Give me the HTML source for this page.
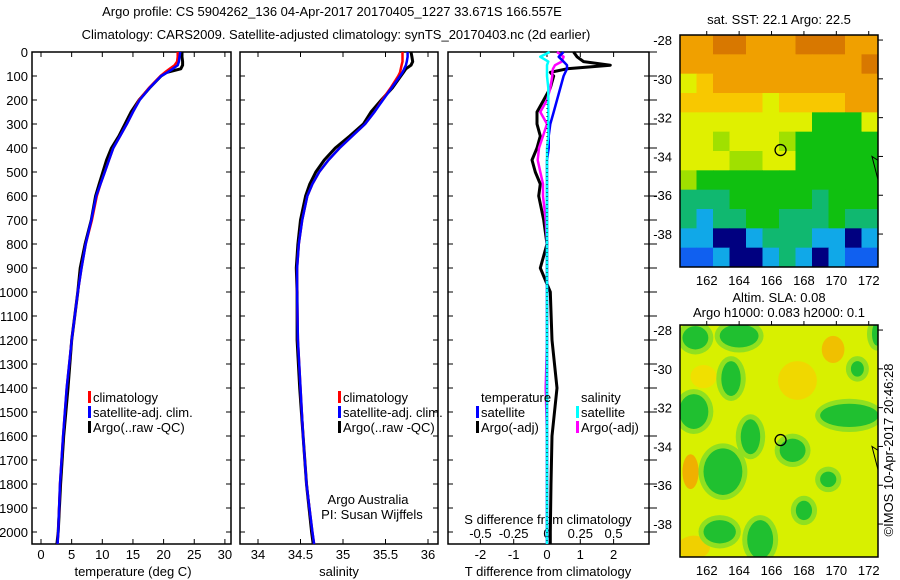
<!DOCTYPE html>
<html><head><meta charset="utf-8"><style>
html,body{margin:0;padding:0;background:#fff;}
svg{display:block;font-family:"Liberation Sans",sans-serif;}
text{font-size:13px;fill:#000;}
</style></head><body>
<svg id="fig" width="900" height="580" viewBox="0 0 900 580" xmlns="http://www.w3.org/2000/svg">
<defs><clipPath id="slaClip"><rect x="680" y="325" width="198" height="232"/></clipPath><clipPath id="sstClip"><rect x="680" y="35" width="198" height="232"/></clipPath></defs>
<rect width="900" height="580" fill="#fff"/>
<text x="332" y="16" text-anchor="middle">Argo profile: CS 5904262_136 04-Apr-2017 20170405_1227 33.671S 166.557E</text>
<text x="336" y="39" text-anchor="middle">Climatology: CARS2009. Satellite-adjusted climatology: synTS_20170403.nc (2d earlier)</text>
<g id="plots"></g>
<g id="maps"></g>
<text transform="translate(893,450) rotate(-90)" text-anchor="middle">©IMOS 10-Apr-2017 20:46:28</text>
</svg>
<script>
// ---------- data ----------
const depths = [0,20,40,55,70,85,100,150,200,250,300,350,400,450,500,550,600,700,800,900,1000,1200,1400,1600,1800,2000,2050];
const tempClim = [22.3,22.3,22.2,21.8,21.0,20.2,19.5,17.6,16.0,15.0,14.0,12.9,11.8,11.1,10.4,9.7,9.1,8.3,7.3,6.6,6.0,5.0,4.2,3.6,3.1,2.8,2.7];
const tempSat  = [22.7,22.6,22.5,22.3,21.5,20.6,19.6,17.7,16.1,15.0,14.0,12.9,11.8,11.1,10.4,9.7,9.0,8.2,7.3,6.6,6.0,5.0,4.2,3.6,3.1,2.8,2.7];
const tempArgo = [23.0,23.0,23.1,23.1,22.8,20.5,19.6,17.7,16.0,14.7,13.7,12.7,11.5,10.7,10.1,9.5,8.9,8.2,7.2,6.4,6.0,5.0,4.4,3.7,3.2,2.8,2.6];
const salClim  = [35.70,35.70,35.70,35.69,35.68,35.67,35.65,35.56,35.46,35.37,35.26,35.11,34.96,34.83,34.72,34.64,34.58,34.52,34.48,34.46,34.46,34.47,34.50,34.53,34.57,34.64,34.66];
const salSat   = [35.76,35.76,35.75,35.74,35.72,35.70,35.67,35.57,35.47,35.37,35.26,35.11,34.96,34.83,34.72,34.64,34.58,34.52,34.48,34.46,34.46,34.47,34.50,34.53,34.57,34.64,34.66];
const salArgo  = [35.80,35.81,35.82,35.80,35.74,35.71,35.68,35.58,35.45,35.33,35.24,35.08,34.91,34.78,34.68,34.61,34.56,34.50,34.47,34.45,34.46,34.46,34.49,34.53,34.57,34.63,34.65];
const dTsat  = [0.5,0.35,0.5,0.6,0.6,0.55,0.5,0.4,0.3,0.2,0.1,0.05,0.05,0.0,0.0,0.0,0.0,0.0,0.0,0.0,0.0,0.0,0.0,0.0,0.0,0.0,0.0];
const dTargo = [0.8,0.9,1.1,1.9,0.6,0.1,0.2,0.1,-0.1,-0.3,-0.3,-0.2,-0.3,-0.45,-0.35,-0.2,-0.25,-0.1,0.0,-0.2,0.1,0.15,0.3,0.15,0.12,0.1,0.1];
const dSsat  = [0.02,-0.05,0.01,0.0,0.0,0.0,0.0,0.01,0.01,0.01,0.01,0.01,0.0,0.0,0.0,0.0,0.0,0.0,0.0,0.0,0.0,0.0,0.0,0.0,0.0,0.0,0.0];
const dSargo = [0.075,0.125,0.11,0.06,0.045,0.04,0.04,0.025,0.0,-0.05,0.0,-0.03,-0.06,-0.07,-0.05,-0.03,-0.03,-0.01,0.0,0.0,0.0,0.0,-0.01,0.0,0.0,0.0,0.0];
const depthTicks = [0,100,200,300,400,500,600,700,800,900,1000,1100,1200,1300,1400,1500,1600,1700,1800,1900,2000];
const tTicks = [0,5,10,15,20,25,30];
const sTicks = [34,34.5,35,35.5,36];
const dTTicks = [-2,-1,0,1,2];
const dSTicks = [-0.5,-0.25,0,0.25,0.5];
const dSTickLabels = ['-0.5','-0.25','0','0.25','0.5'];
const lonTicks = [162,164,166,168,170,172];
const latTicks = [-28,-30,-32,-34,-36,-38];
const argoLon = 166.557, argoLat = -33.671;
const sstGrid = [
"ooOOoooOOOoo",
"oooooooooooO",
"yYoooooooooo",
"YYYYYyYYYYoo",
"yyyyyyyyGGGy",
"yylyyylGGGGG",
"yyyllyyGGGGG",
"lGGGGGGGGGGG",
"TTTGGGGGTGGG",
"TcTTGGTTTGTT",
"ccNNcTTTccNc",
"bbcNNcTcNcbb"];
const slaBlobLon = [161.3,164.0,163.5,161.2,164.7,163.0,167.3,170.8,171.3,162.8,165.3,169.5,172.5,168.0];
const slaBlobLat = [-28.4,-28.3,-30.5,-32.2,-33.5,-35.3,-34.2,-32.4,-30.0,-38.4,-38.8,-35.7,-28.2,-37.3];
const slaBlobRx  = [0.8,1.2,0.6,0.9,0.6,1.2,0.8,1.8,0.4,1.0,0.8,0.5,0.3,0.5];
const slaBlobRy  = [0.6,0.6,0.9,0.9,0.9,1.2,0.6,0.6,0.4,0.6,1.0,0.4,0.6,0.5];

// ---------- helpers ----------
const NS='http://www.w3.org/2000/svg';
function mk(tag,attrs,parent){const e=document.createElementNS(NS,tag);for(const k in attrs)e.setAttribute(k,attrs[k]);(parent||document.getElementById('plots')).appendChild(e);return e;}
const yD = d => 52 + d*0.24;
const xT = v => 41 + v*6.13;
const xS = v => 258 + (v-34)*85;
const xDT = v => 547 + v*33.3;
const xDS = v => 547 + v*4*33.3;
const panels = [{x0:32,x1:231},{x0:240,x1:438},{x0:448,x1:649}];
const yBot = 544;

panels.forEach((p,i)=>{
  const r=mk('rect',{x:p.x0,y:52,width:p.x1-p.x0,height:yBot-52,fill:'none',stroke:'#000','stroke-width':1.5});
  
  
  depthTicks.forEach(d=>{
    const t1=mk('line',{x1:p.x0,x2:p.x0+5,y1:yD(d),y2:yD(d),stroke:'#000'});
    
    
    const t2=mk('line',{x1:p.x1-5,x2:p.x1+(i==2?8:0),y1:yD(d),y2:yD(d),stroke:'#000'});
    
    
  });
});
depthTicks.forEach(d=>{
  const t=mk('text',{x:28,y:yD(d)+5,'text-anchor':'end'});
  
  
  t.textContent=d;
});
function xAxis(ticks,labels,fx,y,topTicks){
  ticks.forEach((v,i)=>{
    const x=fx(v);
    const tk=mk('line',{x1:x,x2:x,y1:yBot,y2:yBot-5,stroke:'#000'});
    
    
    if(topTicks){const tt=mk('line',{x1:x,x2:x,y1:52,y2:57,stroke:'#000'});
    
    }
    const t=mk('text',{x:x,y:y,'text-anchor':'middle'});
    
    
    t.textContent=labels[i];
  });
}
xAxis(tTicks,tTicks,xT,559,true);
xAxis(sTicks,sTicks,xS,559,true);
xAxis(dTTicks,dTTicks,xDT,559,true);
dSTicks.forEach((v,i)=>{
  const t=mk('text',{x:xDS(v),y:538,'text-anchor':'middle'});
  
  
  t.textContent=dSTickLabels[i];
});
function label(txt,x,y,name,anchor){const t=mk('text',{x:x,y:y,'text-anchor':anchor||'middle'});
  
  
  t.textContent=txt;return t;}
label('temperature (deg C)',133,576,'x-axis-title-temperature');
label('salinity',339,576,'x-axis-title-salinity');
label('T difference from climatology',548,576,'x-axis-title-t-diff');
label('S difference from climatology',548,524,'s-diff-axis-title');
label('Argo Australia',368,504,'credit-argo-australia');
label('PI: Susan Wijffels',372,519,'credit-pi');

function series(vals,fx,color,name,w){
  const pts=vals.map((v,i)=>fx(v).toFixed(1)+','+yD(depths[i]).toFixed(1)).join(' ');
  const pl=mk('polyline',{points:pts,fill:'none',stroke:color,'stroke-width':w||2.5,'stroke-linejoin':'round'});
  
  
}
series(tempArgo,xT,'#000','temp-argo-line',3);
series(tempClim,xT,'#f00','temp-climatology-line');
series(tempSat,xT,'#00f','temp-satellite-line');
series(salArgo,xS,'#000','sal-argo-line',3);
series(salClim,xS,'#f00','sal-climatology-line');
series(salSat,xS,'#00f','sal-satellite-line');
series(dTargo,xDT,'#000','t-diff-argo-line',3);
series(dSargo,xDS,'#f0f','s-diff-argo-line');
series(dTsat,xDT,'#00f','t-diff-satellite-line');
series(dSsat,xDS,'#0ff','s-diff-satellite-line');
const zl=mk('line',{x1:547,x2:547,y1:100,y2:yBot,stroke:'#000','stroke-dasharray':'1,3'});



function legend(x,y,color,txt,name){
  if(color){const b=mk('rect',{x:x-5,y:y-11,width:3,height:12,fill:color});
  
  }
  label(txt,x,y,name,'start');
}
[[93,'climatology','#f00'],[93,'satellite-adj. clim.','#00f'],[93,'Argo(..raw -QC)','#000']].forEach((e,i)=>{
  legend(e[0],402+i*15,e[2],e[1],'legend-temp-'+i);
  legend(343,402+i*15,e[2],e[1],'legend-sal-'+i);
});
legend(481,402,null,'temperature','legend-temperature-header');
legend(581,402,null,'salinity','legend-salinity-header');
legend(481,417,'#00f','satellite','legend-t-satellite');
legend(481,432,'#000','Argo(-adj)','legend-t-argo');
legend(581,417,'#0ff','satellite','legend-s-satellite');
legend(581,432,'#f0f','Argo(-adj)','legend-s-argo');

// ---------- maps ----------
const mg=document.getElementById('maps');
const mapX0=680,mapX1=878;
const lonX = lon => 680 + (lon-160.35)*16.2;
const sstColors={O:'#d87800',o:'#f0a000',Y:'#f8c800',y:'#e0f000',l:'#a0e000',G:'#10c010',T:'#10b870',c:'#10a8e8',N:'#000080',b:'#1060f0'};
function mapFrame(top,bot,name){
  const latY = lat => top + (-27.74-lat)*19.4;
  const r=mk('rect',{x:mapX0,y:top,width:mapX1-mapX0,height:bot-top,fill:'none',stroke:'#000','stroke-width':1.5},mg);
  
  
  lonTicks.forEach(l=>{
    const x=lonX(l);
    const a=mk('line',{x1:x,x2:x,y1:top-4,y2:top,stroke:'#000'},mg);
    
    
    const t=mk('text',{x:x,y:bot+18,'text-anchor':'middle'},mg);
    
    
    t.textContent=l;
  });
  latTicks.forEach(l=>{
    const y=latY(l);
    const a=mk('line',{x1:mapX1,x2:mapX1+5,y1:y,y2:y,stroke:'#000'},mg);
    
    
    const t=mk('text',{x:672,y:y+5,'text-anchor':'end'},mg);
    
    
    t.textContent=l;
  });
  const c=mk('circle',{cx:lonX(argoLon),cy:latY(argoLat),r:5.5,fill:'none',stroke:'#000','stroke-width':1.3},mg);
  
  
  const cl=mk('polyline',{points:`${mapX1},${latY(-34.2)} ${mapX1-6},${latY(-34.0)} ${mapX1-2},${latY(-34.8)} ${mapX1},${latY(-35.2)}`,fill:'none',stroke:'#000'},mg);
  
  
  return latY;
}
// SST map
(function(){
  const top=35,bot=267,rows=sstGrid.length,cols=12;
  const cw=(mapX1-mapX0)/cols,ch=(bot-top)/rows;
  const g=mk('g',{'clip-path':'url(#sstClip)'},mg);
  
  
  sstGrid.forEach((row,r)=>{for(let c=0;c<cols;c++){
    const rc=mk('rect',{x:mapX0+c*cw,y:top+r*ch,width:cw+0.5,height:ch+0.5,fill:sstColors[row[c]]||'#f0a000'},g);
    
    
  }});
  mapFrame(top,bot,'sst-map');
  label('sat. SST: 22.1  Argo: 22.5',779,24,'sst-map-title');
})();
// SLA map
(function(){
  const top=325,bot=557;
  const g=mk('g',{'clip-path':'url(#slaClip)'},mg);
  
  
  const bg=mk('rect',{x:mapX0,y:top,width:mapX1-mapX0,height:bot-top,fill:'#d8f000'},g);
  
  
  const latY = lat => top + (-27.74-lat)*19.4;
  [[161,-35.3,0.5,0.9,'#f0b000'],[167.6,-30.6,1.2,1.0,'#f0d800'],[169.8,-29.0,0.7,0.7,'#f0c000'],[161.8,-30.4,0.8,0.6,'#f0e000'],[161.2,-39.2,1.0,0.6,'#f0d000']].forEach(o=>{
    const e=mk('ellipse',{cx:lonX(o[0]),cy:latY(o[1]),rx:o[2]*16.2,ry:o[3]*19.4,fill:o[4]},g);
    
    
  });
  slaBlobLon.forEach((lon,i)=>{
    const h=mk('ellipse',{cx:lonX(lon),cy:latY(slaBlobLat[i]),rx:slaBlobRx[i]*16.2+5,ry:slaBlobRy[i]*19.4+5,fill:'#90e020'},g);
    
    
  });
  slaBlobLon.forEach((lon,i)=>{
    const e=mk('ellipse',{cx:lonX(lon),cy:latY(slaBlobLat[i]),rx:slaBlobRx[i]*16.2,ry:slaBlobRy[i]*19.4,fill:'#20c030'},g);
    
    
  });
  mapFrame(top,bot,'sla-map');
  label('Altim. SLA: 0.08',779,302,'sla-map-title-1');
  label('Argo h1000: 0.083 h2000: 0.1',779,317,'sla-map-title-2');
})();
</script>
</body></html>
